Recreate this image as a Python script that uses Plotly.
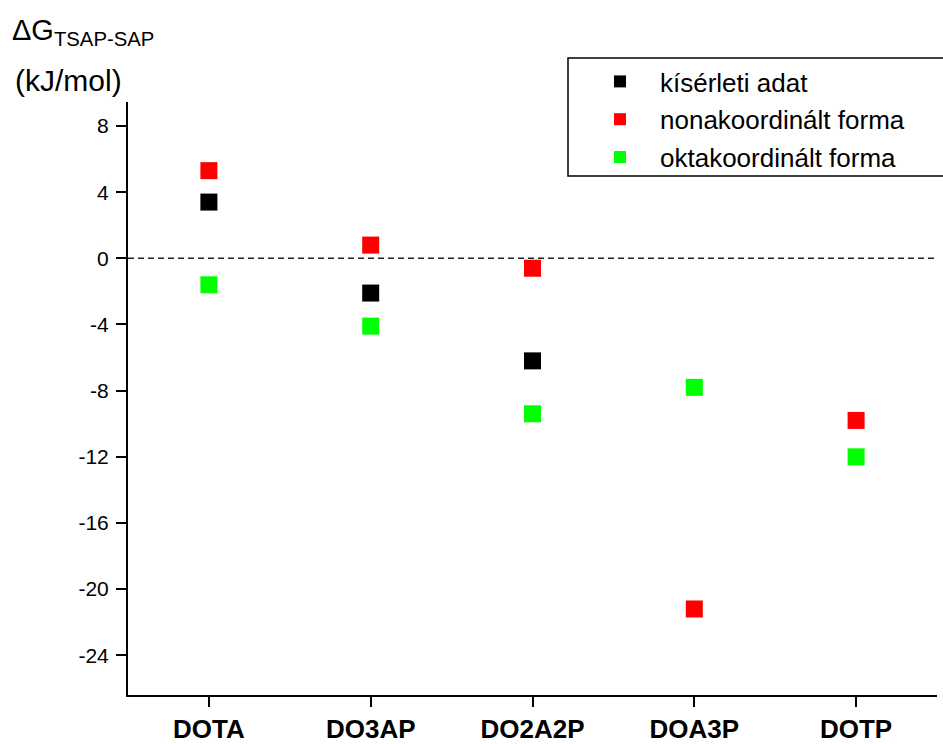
import plotly.graph_objects as go

# Ligands on the x axis
ligands = ["DOTA", "DO3AP", "DO2A2P", "DOA3P", "DOTP"]

# ΔG(TSAP-SAP) in kJ/mol for each ligand
experimental = [3.4, -2.1, -6.2, None, None]
nona_coord = [5.3, 0.8, -0.6, -21.2, -9.8]
octa_coord = [-1.6, -4.1, -9.4, -7.8, -12.0]

series_names = ["kísérleti adat", "nonakoordinált forma", "oktakoordinált forma"]
series_colors = ["#000000", "#ff0000", "#00ff00"]

y_ticks = [8, 4, 0, -4, -8, -12, -16, -20, -24]

font_family = "Liberation Sans, Arial, sans-serif"

# plot-area pixel box used for paper-coordinate placement
PX_L, PX_R, PX_T, PX_B = 128, 937, 102, 695


def px_x(px):
    return (px - PX_L) / (PX_R - PX_L)


def px_y(py):
    return 1 - (py - PX_T) / (PX_B - PX_T)


fig = go.Figure()
for i, (name, vals, color) in enumerate(zip(series_names,
                                            [experimental, nona_coord, octa_coord],
                                            series_colors)):
    fig.add_trace(go.Scatter(
        x=list(range(len(ligands))),
        y=vals,
        mode="markers",
        name=name,
        legendgroup=f"g{i}",
        marker=dict(symbol="square", size=17, color=color, line=dict(width=0)),
    ))

# dashed zero reference line
fig.add_shape(type="line", xref="paper", yref="y", x0=0, x1=1, y0=0, y1=0,
              line=dict(color="#222222", width=1.6, dash="6px,4px"))

# legend frame (runs off the right edge)
fig.add_shape(type="rect", xref="paper", yref="paper",
              x0=px_x(568), x1=1.05, y0=px_y(176), y1=px_y(58),
              line=dict(color="black", width=1.5), fillcolor="rgba(0,0,0,0)")

# axis title placed at the top left
fig.add_annotation(xref="paper", yref="paper", x=px_x(10), y=px_y(12),
                   xanchor="left", yanchor="top",
                   text="ΔG<sub>TSAP-SAP</sub>", showarrow=False,
                   font=dict(family=font_family, size=29, color="black"))
fig.add_annotation(xref="paper", yref="paper", x=px_x(13), y=px_y(62),
                   xanchor="left", yanchor="top",
                   text="(kJ/mol)", showarrow=False,
                   font=dict(family=font_family, size=30, color="black"))

fig.update_layout(
    width=943, height=744,
    margin=dict(l=PX_L, r=943 - PX_R, t=PX_T, b=744 - PX_B, autoexpand=False),
    paper_bgcolor="white", plot_bgcolor="white",
    font=dict(family=font_family, color="black"),
    showlegend=True,
    legend=dict(
        x=px_x(580), y=px_y(58),
        xanchor="left", yanchor="top",
        bgcolor="rgba(0,0,0,0)", borderwidth=0,
        font=dict(family=font_family, size=26, color="black"),
        traceorder="grouped", tracegroupgap=1, itemsizing="constant",
        itemwidth=70,
    ),
    xaxis=dict(
        range=[-0.5, 4.5],
        tickmode="array", tickvals=list(range(len(ligands))),
        ticktext=[f"<b>{t}</b>" for t in ligands],
        ticks="outside", ticklen=10, tickwidth=2, tickcolor="black",
        showline=True, linecolor="black", linewidth=2,
        showgrid=False, zeroline=False,
        ticklabelstandoff=0,
        tickfont=dict(family=font_family, size=26, color="black"),
    ),
    yaxis=dict(
        range=[-26.4, 9.45],
        tickmode="array", tickvals=y_ticks, ticktext=[str(v) for v in y_ticks],
        ticks="outside", ticklen=10, tickwidth=2, tickcolor="black",
        showline=True, linecolor="black", linewidth=2,
        showgrid=False, zeroline=False,
        ticklabelstandoff=3,
        tickfont=dict(family=font_family, size=21, color="black"),
    ),
)

fig.write_html("out.html")
